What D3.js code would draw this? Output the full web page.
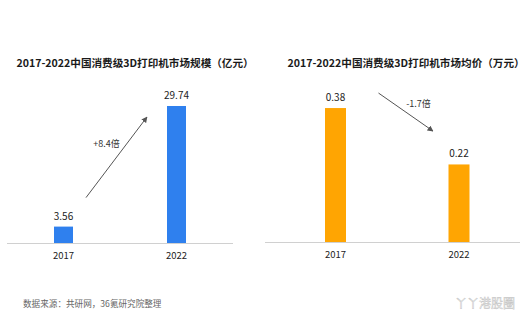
<!DOCTYPE html>
<html>
<head>
<meta charset="utf-8">
<script src="https://cdn.jsdelivr.net/npm/d3@7/dist/d3.min.js"></script>
<style>
  html, body { margin: 0; padding: 0; background: #fff; }
  svg { display: block; }
  text { font-family: "Noto Sans CJK SC", "Open Sans", sans-serif; }
</style>
</head>
<body>
<svg id="chart" width="529" height="324"></svg>
<script>
// Market size (100M yuan) and average price (10k yuan) by year
const years = ["2017", "2022"];
const marketSize = [3.56, 29.74];
const avgPrice = [0.38, 0.22];
const titles = [
  "2017-2022中国消费级3D打印机市场规模（亿元）",
  "2017-2022中国消费级3D打印机市场均价（万元）"
];
const changeLabels = ["+8.4倍", "-1.7倍"];
const sourceNote = "数据来源：共研网，36氪研究院整理";
const brand = "丫丫港股圈";

const svg = d3.select("#chart");

const panels = [
  {
    values: marketSize, title: titles[0], change: changeLabels[0],
    color: "#2F80EE", xRange: [7, 233], axisRange: [7, 233],
    yDomain: [0, 30], base: 243, h: 138.2, barW: 19, titleX: 135,
    fmt: d3.format(".2f")
  },
  {
    values: avgPrice, title: titles[1], change: changeLabels[1],
    color: "#FFA502", xRange: [273.75, 520.75], axisRange: [265, 520],
    yDomain: [0, 0.4], base: 242, h: 141, barW: 21, titleX: 406,
    fmt: d3.format(".2f")
  }
];

const defs = svg.append("defs");
defs.append("marker")
  .attr("id", "arrowHead")
  .attr("viewBox", "0 0 10 10")
  .attr("refX", 9).attr("refY", 5)
  .attr("markerWidth", 6).attr("markerHeight", 6)
  .attr("markerUnits", "userSpaceOnUse")
  .attr("orient", "auto")
  .append("path")
  .attr("d", "M0,0 L10,5 L0,10 z")
  .attr("fill", "#555");

panels.forEach((p, pi) => {
  const g = svg.append("g");
  const x = d3.scalePoint().domain(years).range(p.xRange).padding(0.5);
  const y = d3.scaleLinear().domain(p.yDomain).range([p.base, p.base - p.h]);

  // title
  g.append("text")
    .attr("x", p.titleX).attr("y", 67)
    .attr("text-anchor", "middle")
    .attr("font-size", 10.6).attr("font-weight", "bold")
    .attr("fill", "#1a1a1a")
    .text(p.title);

  // bars
  g.selectAll("rect.bar").data(p.values).join("rect")
    .attr("class", "bar")
    .attr("x", (d, i) => x(years[i]) - p.barW / 2)
    .attr("width", p.barW)
    .attr("y", d => y(d))
    .attr("height", d => y(0) - y(d))
    .attr("fill", p.color);

  // baseline
  g.append("line")
    .attr("x1", p.axisRange[0]).attr("x2", p.axisRange[1])
    .attr("y1", y(0) + 0.5).attr("y2", y(0) + 0.5)
    .attr("stroke", "#d0d0d0").attr("stroke-width", 1);

  // value labels
  g.selectAll("text.val").data(p.values).join("text")
    .attr("class", "val")
    .attr("x", (d, i) => x(years[i]))
    .attr("y", d => y(d) - 7)
    .attr("text-anchor", "middle")
    .attr("font-size", 10).attr("fill", "#222")
    .text(d => p.fmt(d));

  // year labels
  g.selectAll("text.year").data(years).join("text")
    .attr("class", "year")
    .attr("x", d => x(d))
    .attr("y", y(0) + 16)
    .attr("text-anchor", "middle")
    .attr("font-size", 9.5).attr("fill", "#222")
    .text(d => d);

  // change arrow + label
  const x0 = x(years[0]), x1 = x(years[1]);
  const v0 = p.values[0], v1 = p.values[1];
  let a, b, lab;
  if (pi === 0) {
    a = [x0 + 22.5, y(v0) - 29];
    b = [x1 - 29.5, y(v1) + 11];
    lab = [x0 + 43, y(v1) + 41];
  } else {
    a = [x0 + 43, y(v0) - 15];
    b = [x1 - 26, y(v0) + 23];
    lab = [x0 + 83, y(v0) - 1];
  }
  g.append("line")
    .attr("x1", a[0]).attr("y1", a[1])
    .attr("x2", b[0]).attr("y2", b[1])
    .attr("stroke", "#555").attr("stroke-width", 1)
    .attr("marker-end", "url(#arrowHead)");
  g.append("text")
    .attr("x", lab[0]).attr("y", lab[1])
    .attr("text-anchor", "middle")
    .attr("font-size", 9).attr("fill", "#333")
    .text(p.change);
});

// footer
svg.append("text")
  .attr("x", 23).attr("y", 307)
  .attr("font-size", 8.6).attr("fill", "#666")
  .text(sourceNote);

svg.append("text")
  .attr("x", 515).attr("y", 308)
  .attr("text-anchor", "end")
  .attr("font-size", 12).attr("fill", "none")
  .attr("stroke", "#c4c4c4").attr("stroke-width", 0.5)
  .text(brand);
</script>
</body>
</html>
